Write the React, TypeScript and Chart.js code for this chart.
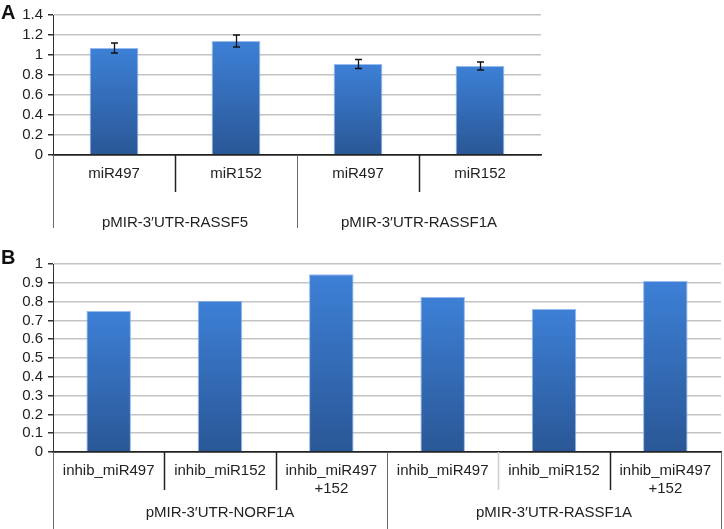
import React, { useEffect, useRef } from "react";
import { Chart, registerables } from "chart.js";
Chart.register(...registerables);

const FONT = '"Liberation Sans", Arial, Helvetica, sans-serif';

// Panel A
const categoriesA: string[][] = [["miR497"], ["miR152"], ["miR497"], ["miR152"]];
const groupsA = ["pMIR-3′UTR-RASSF5", "pMIR-3′UTR-RASSF1A"];
const groupSizesA = [2, 2];
const valuesA = [1.07, 1.14, 0.91, 0.89];
const errorsA = [0.05, 0.06, 0.045, 0.04];
const yTicksA = [0, 0.2, 0.4, 0.6, 0.8, 1, 1.2, 1.4];
const yTickLabelsA = ["0", "0.2", "0.4", "0.6", "0.8", "1", "1.2", "1.4"];

// Panel B
const categoriesB: string[][] = [
  ["inhib_miR497"],
  ["inhib_miR152"],
  ["inhib_miR497", "+152"],
  ["inhib_miR497"],
  ["inhib_miR152"],
  ["inhib_miR497", "+152"],
];
const groupsB = ["pMIR-3′UTR-NORF1A", "pMIR-3′UTR-RASSF1A"];
const groupSizesB = [3, 3];
const valuesB = [0.75, 0.805, 0.945, 0.825, 0.76, 0.91];
const yTicksB = [0, 0.1, 0.2, 0.3, 0.4, 0.5, 0.6, 0.7, 0.8, 0.9, 1];
const yTickLabelsB = ["0", "0.1", "0.2", "0.3", "0.4", "0.5", "0.6", "0.7", "0.8", "0.9", "1"];

const multiLevelPlugin = {
  id: "multiLevel",
  afterDraw(chart: any, _args: any, opts: any) {
    const { ctx, chartArea } = chart;
    const xs = chart.scales.x;
    const n = opts.categories.length;
    const step = xs.getPixelForValue(1) - xs.getPixelForValue(0);
    const b = chartArea.bottom;
    ctx.save();
    // letter
    ctx.font = `bold 20px ${FONT}`;
    ctx.fillStyle = "#111";
    ctx.textAlign = "left";
    ctx.textBaseline = "middle";
    ctx.fillText(opts.letter, 1, opts.letterY);

    ctx.font = `15px ${FONT}`;
    ctx.fillStyle = "#222";
    ctx.textAlign = "center";
    for (let i = 0; i < n; i++) {
      const x = xs.getPixelForValue(i);
      opts.categories[i].forEach((t: string, j: number) => {
        ctx.fillText(t, x, b + opts.tierY + j * opts.lineGap);
      });
    }
    const starts = new Set<number>();
    let acc = 0;
    const groupCenters: number[] = [];
    opts.groupSizes.forEach((s: number) => {
      starts.add(acc);
      const x0 = xs.getPixelForValue(acc) - step / 2;
      const x1 = xs.getPixelForValue(acc + s - 1) + step / 2;
      groupCenters.push((x0 + x1) / 2);
      acc += s;
    });
    for (let k = 0; k <= n; k++) {
      const isLong = starts.has(k) || k === n;
      if (k === n && !opts.rightEdge) continue;
      const x = Math.round(
        k < n ? xs.getPixelForValue(k) - step / 2 : xs.getPixelForValue(n - 1) + step / 2
      ) + 0.5;
      ctx.beginPath();
      ctx.lineWidth = isLong ? 1 : 1.5;
      ctx.strokeStyle = isLong ? "#6a6a6a" : (opts.lightSep && opts.lightSep.includes(k) ? "#cfcfcf" : "#222");
      ctx.moveTo(x, b);
      ctx.lineTo(x, b + (isLong ? opts.longLen : opts.shortLen));
      ctx.stroke();
    }
    opts.groups.forEach((g: string, i: number) => {
      ctx.fillText(g, groupCenters[i], b + opts.groupY);
    });
    ctx.restore();
  },
};

const errorBarPlugin = {
  id: "errorBars",
  afterDatasetsDraw(chart: any, _args: any, opts: any) {
    if (!opts || !opts.errors) return;
    const { ctx } = chart;
    const xs = chart.scales.x;
    const ys = chart.scales.y;
    ctx.save();
    ctx.strokeStyle = "#111";
    ctx.lineWidth = 1.3;
    opts.values.forEach((v: number, i: number) => {
      const e = opts.errors[i];
      const x = Math.round(xs.getPixelForValue(i)) + 0.5;
      const yt = ys.getPixelForValue(v + e);
      const yb = ys.getPixelForValue(v - e);
      ctx.beginPath();
      ctx.moveTo(x, yt);
      ctx.lineTo(x, yb);
      ctx.moveTo(x - 3.5, yt);
      ctx.lineTo(x + 3.5, yt);
      ctx.moveTo(x - 3.5, yb);
      ctx.lineTo(x + 3.5, yb);
      ctx.stroke();
    });
    ctx.restore();
  },
};

function barGradient(c: any) {
  const chart = c.chart;
  const ys = chart.scales && chart.scales.y;
  if (!chart.chartArea || !ys || c.type !== "data") return "#3570c0";
  const v = typeof c.raw === "number" ? c.raw : 0;
  const top = ys.getPixelForValue(v);
  const bot = ys.getPixelForValue(0);
  if (!isFinite(top) || !isFinite(bot) || top === bot) return "#3570c0";
  const g = chart.ctx.createLinearGradient(0, top, 0, bot);
  g.addColorStop(0, "#3d80d6");
  g.addColorStop(1, "#2a5796");
  return g;
}

function makeConfig(p: any) {
  return {
    type: "bar",
    data: {
      labels: p.categories.map((c: string[]) => c.join(" ")),
      datasets: [
        {
          data: p.values,
          backgroundColor: barGradient,
          borderColor: "rgba(140,180,235,0.9)",
          borderWidth: 1,
          categoryPercentage: 1,
          barPercentage: 0.4,
        },
      ],
    },
    options: {
      responsive: false,
      animation: false,
      events: [],
      layout: { padding: p.padding },
      plugins: {
        legend: { display: false },
        tooltip: { enabled: false },
        multiLevel: {
          categories: p.categories,
          groups: p.groups,
          groupSizes: p.groupSizes,
          tierY: p.tierY,
          lineGap: 18,
          shortLen: p.shortLen,
          longLen: p.longLen,
          groupY: p.groupY,
          rightEdge: p.rightEdge,
          lightSep: p.lightSep,
          letter: p.letter,
          letterY: p.letterY,
        },
        errorBars: p.errors ? { values: p.values, errors: p.errors } : {},
      },
      scales: {
        x: {
          grid: { display: false },
          border: { display: true, color: "#222", width: 1.5 },
          ticks: { display: false },
          afterFit: (s: any) => {
            s.height = p.xHeight;
          },
        },
        y: {
          min: 0,
          max: p.yTicks[p.yTicks.length - 1],
          afterBuildTicks: (s: any) => {
            s.ticks = p.yTicks.map((v: number) => ({ value: v }));
          },
          afterFit: (s: any) => {
            s.width = 53;
          },
          grid: {
            color: (c: any) => (c.tick && c.tick.value === 0 ? "#222" : "#c4c4c4"),
            lineWidth: 1.5,
            drawTicks: true,
            tickLength: 5,
            tickColor: "#333",
          },
          border: { display: true, color: "#333", width: 1 },
          ticks: {
            autoSkip: false,
            padding: 5,
            color: "#222",
            font: { family: FONT, size: 15 },
            callback: (v: number) => {
              const idx = p.yTicks.findIndex((t: number) => Math.abs(t - v) < 1e-9);
              return idx >= 0 ? p.yTickLabels[idx] : "";
            },
          },
        },
      },
    },
    plugins: [multiLevelPlugin, errorBarPlugin],
  };
}

function ChartCanvas({ cfg, width, height, top }: any) {
  const ref = useRef<HTMLCanvasElement>(null);
  useEffect(() => {
    if (!ref.current) return;
    const chart = new Chart(ref.current, cfg as any);
    return () => chart.destroy();
  }, []);
  return (
    <canvas
      ref={ref}
      width={width}
      height={height}
      style={{ position: "absolute", left: 0, top, width, height }}
    />
  );
}

export default function App() {
  const cfgA = makeConfig({
    categories: categoriesA,
    groups: groupsA,
    groupSizes: groupSizesA,
    values: valuesA,
    errors: errorsA,
    yTicks: yTicksA,
    yTickLabels: yTickLabelsA,
    padding: { left: 0, right: 183, top: 15, bottom: 0 },
    xHeight: 95,
    tierY: 19,
    shortLen: 37,
    longLen: 73,
    groupY: 68,
    rightEdge: false,
    letter: "A",
    letterY: 13,
  });
  const cfgB = makeConfig({
    categories: categoriesB,
    groups: groupsB,
    groupSizes: groupSizesB,
    values: valuesB,
    errors: null,
    yTicks: yTicksB,
    yTickLabels: yTickLabelsB,
    padding: { left: 0, right: 3, top: 11, bottom: 0 },
    xHeight: 77,
    tierY: 19,
    shortLen: 38,
    longLen: 77,
    groupY: 61,
    rightEdge: true,
    lightSep: [4],
    letter: "B",
    letterY: 8,
  });
  return (
    <div
      style={{
        position: "fixed",
        left: 0,
        top: 0,
        width: 724,
        height: 529,
        background: "#fff",
        overflow: "hidden",
      }}
    >
      <ChartCanvas cfg={cfgA} width={724} height={250} top={0} />
      <ChartCanvas cfg={cfgB} width={724} height={279} top={250} />
    </div>
  );
}
